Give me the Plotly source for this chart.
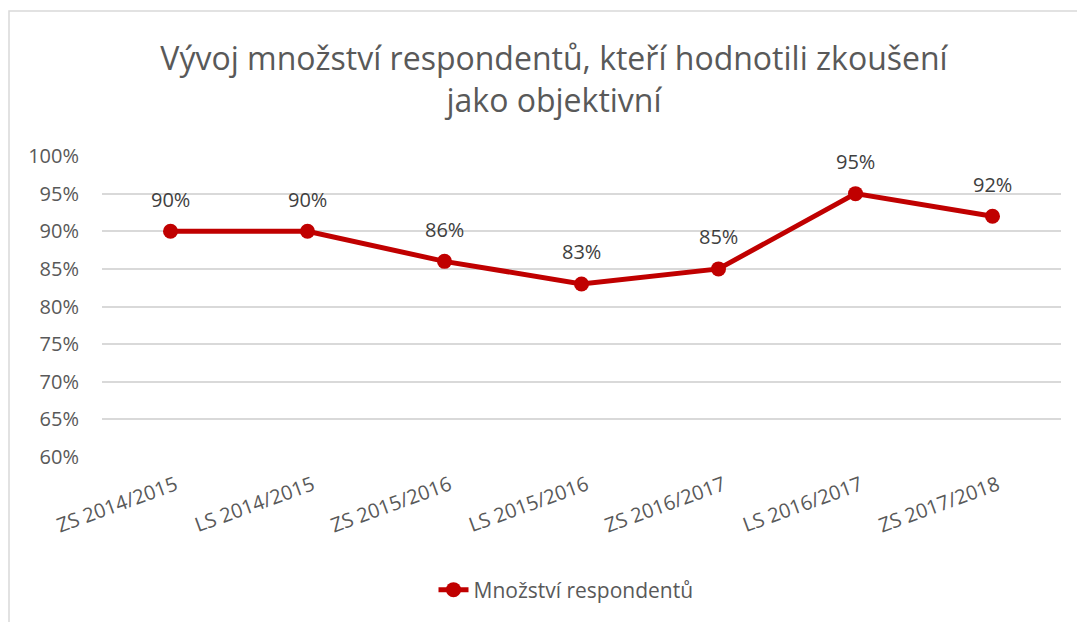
import plotly.graph_objects as go

categories = ["ZS 2014/2015", "LS 2014/2015", "ZS 2015/2016", "LS 2015/2016",
              "ZS 2016/2017", "LS 2016/2017", "ZS 2017/2018"]
values = [0.90, 0.90, 0.86, 0.83, 0.85, 0.95, 0.92]
series_name = "Množství respondentů"
title_text = "Vývoj množství respondentů, kteří hodnotili zkoušení<br>jako objektivní"

W, H = 1077, 622
L, R, T, B = 102, 16, 156, 165
PW, PH = W - L - R, H - T - B

FONT = "Open Sans"
GRAY = "#595959"
RED = "#C00000"
FS = 20

fig = go.Figure()
fig.add_trace(go.Scatter(
    x=categories, y=values, name=series_name,
    mode="lines+markers",
    line=dict(color=RED, width=5),
    marker=dict(color=RED, size=15),
    cliponaxis=False,
))

for c, v in zip(categories, values):
    fig.add_annotation(x=c, y=v, text=f"{v:.0%}", showarrow=False,
                       yshift=32, font=dict(family=FONT, size=FS, color="#404040"))

fig.update_layout(
    width=W, height=H,
    margin=dict(l=L, r=R, t=T, b=B),
    paper_bgcolor="white", plot_bgcolor="white",
    font=dict(family=FONT, color=GRAY),
    title=dict(text=title_text, x=554 / W, xanchor="center",
               y=1 - 70 / H, yanchor="top",
               font=dict(family=FONT, size=32, color=GRAY)),
    showlegend=True,
    legend=dict(orientation="h", x=(566 - L) / PW, xanchor="center",
                y=-(590 - (H - B)) / PH, yanchor="middle",
                font=dict(family=FONT, size=21, color=GRAY)),
    xaxis=dict(showgrid=False, showline=False, ticks="", automargin=False,
               tickangle=-20, tickfont=dict(family=FONT, size=FS, color=GRAY),
               ticklabelstandoff=12, ticklabelshift=5,
               range=[-0.5, len(categories) - 0.5]),
    yaxis=dict(range=[0.6, 1.0], dtick=0.05, tickformat=".0%", automargin=False,
               showgrid=True, gridcolor="#d9d9d9", gridwidth=1.5,
               zeroline=False, showline=False, ticks="",
               ticklabelstandoff=22,
               tickfont=dict(family=FONT, size=FS, color=GRAY)),
)

# chart border box
fig.add_shape(type="rect", xref="paper", yref="paper",
              x0=-(L - 9) / PW, x1=(W - L + 30) / PW,
              y0=-(B + 30) / PH, y1=1 + (T - 11) / PH,
              line=dict(color="#d9d9d9", width=1.5), layer="below")

fig.write_html("out.html", config={"displayModeBar": False},
               post_script="document.body.style.margin='0';document.body.style.overflow='hidden';")
